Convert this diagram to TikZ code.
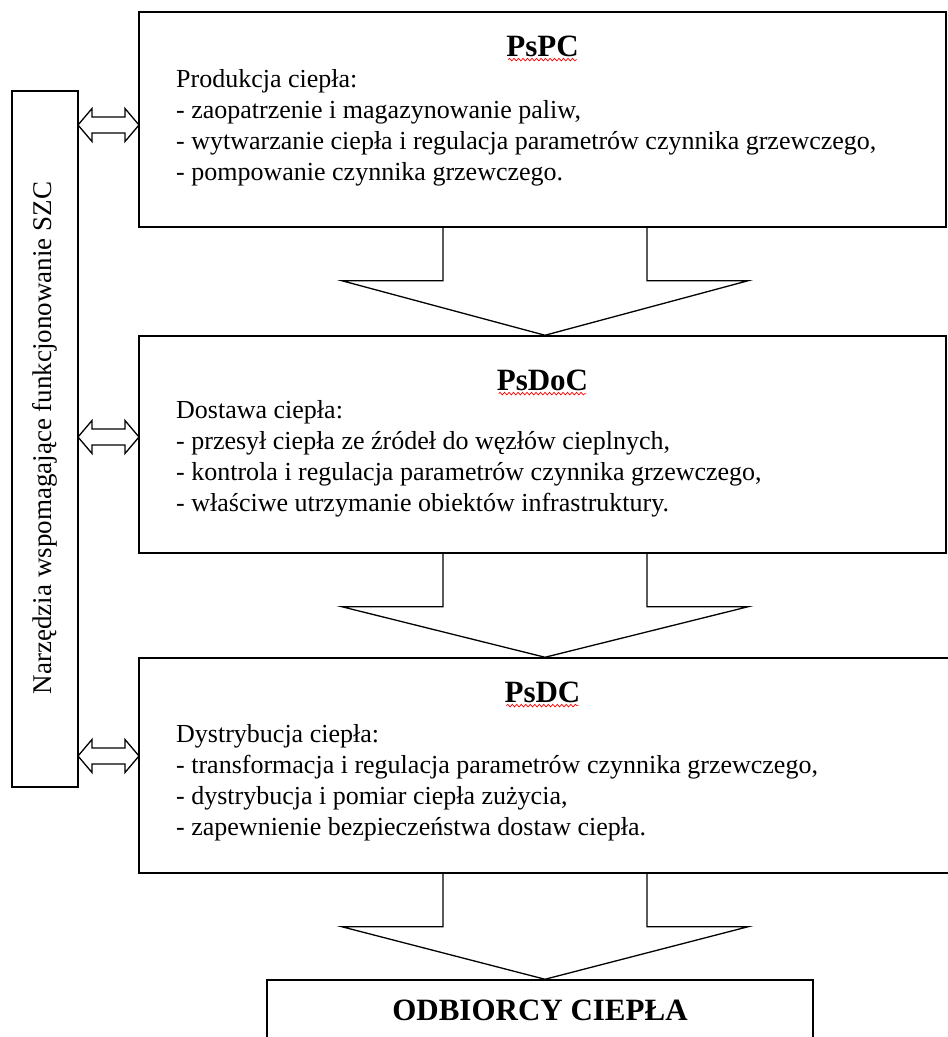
\documentclass[tikz,border=0pt]{standalone}
\usepackage{fontspec}
\setmainfont{Liberation Serif}
\usetikzlibrary{calc,decorations.pathmorphing}

\tikzset{
  blok/.style={draw, line width=1.5pt, inner sep=0pt},
  tytul/.style={font=\fontsize{31}{35}\selectfont\bfseries, inner sep=0pt},
  opis/.style={align=left, anchor=north west, inner sep=0pt, font=\fontsize{26}{31}\selectfont},
  falka/.style={red, line width=0.7pt, decorate, decoration={snake, amplitude=1.3pt, segment length=4.5pt}},
  strzal/.style={draw, line width=1.3pt, line join=miter},
}

% strzalka blokowa miedzy dwoma blokami
\newcommand\blokowa[2]{%
  \path (os |- #1.south) ++(0,53) coordinate (baza);
  \draw[strzal] ($(os |- #1.south)+(-102,0)$) -- ($(baza)+(-102,0)$) -- ($(baza)+(-203,0)$)
    -- (os |- #2.north) -- ($(baza)+(203,0)$) -- ($(baza)+(102,0)$) -- ($(os |- #1.south)+(102,0)$);
}
% pusta strzalka dwustronna
\newcommand\dwustrzalka[2]{%
  \draw[strzal] (#1) -- ++(14,-16.5) -- ++(0,8.5) -- ($(#2)+(-14,-8)$) -- ++(0,-8.5) -- (#2)
    -- ++(-14,16.5) -- ++(0,-8.5) -- ($(#1)+(14,8)$) -- ++(0,8.5) -- cycle;
}

\begin{document}
\begin{tikzpicture}[x=1pt, y=-1pt]
  \useasboundingbox (0,0) rectangle (948,1037);
  \clip (0,0) rectangle (948,1037);

  \coordinate (os) at (545,0);

  % bloki
  \node[blok, minimum width=807, minimum height=215] (pspc) at (542.5,119.5) {};
  \node[blok, minimum width=807, minimum height=217] (psdoc) at (542.5,444.5) {};
  \node[blok, minimum width=812, minimum height=215] (psdc) at (545,765.5) {};
  \node[blok, minimum width=546, minimum height=80] (odb) at (540,1020) {};
  \node[blok, minimum width=66, minimum height=696] (narz) at (45,439) {};

  % teksty
  \node[tytul] (t1) at (542.5,46) {PsPC};
  \draw[falka] ($(t1.south west)+(2,3)$) -- ($(t1.south east)+(-2,3)$);
  \node[opis] (o1) at (176,69) {Produkcja ciepła:\\
    - zaopatrzenie i magazynowanie paliw,\\
    - wytwarzanie ciepła i regulacja parametrów czynnika grzewczego,\\
    - pompowanie czynnika grzewczego.};

  \node[tytul] (t2) at (542.5,380) {PsDoC};
  \draw[falka] ($(t2.south west)+(2,3)$) -- ($(t2.south east)+(-2,3)$);
  \node[opis] (o2) at (176,400) {Dostawa ciepła:\\
    - przesył ciepła ze źródeł do węzłów cieplnych,\\
    - kontrola i regulacja parametrów czynnika grzewczego,\\
    - właściwe utrzymanie obiektów infrastruktury.};

  \node[tytul] (t3) at (542.5,692) {PsDC};
  \draw[falka] ($(t3.south west)+(2,3)$) -- ($(t3.south east)+(-2,3)$);
  \node[opis] (o3) at (176,724) {Dystrybucja ciepła:\\
    - transformacja i regulacja parametrów czynnika grzewczego,\\
    - dystrybucja i pomiar ciepła zużycia,\\
    - zapewnienie bezpieczeństwa dostaw ciepła.};

  \node[tytul] (t4) at (540,1010) {ODBIORCY CIEPŁA};
  \node[rotate=90, font=\fontsize{27}{31}\selectfont] (t5) at (45,438) {Narzędzia wspomagające funkcjonowanie SZC};

  % strzalki w dol
  \blokowa{pspc}{psdoc}
  \blokowa{psdoc}{psdc}
  \blokowa{psdc}{odb}

  % strzalki do narzedzi
  \coordinate (a1) at (78,125);  \coordinate (b1) at (139,125);
  \coordinate (a2) at (78,437);  \coordinate (b2) at (139,437);
  \coordinate (a3) at (78,756);  \coordinate (b3) at (139,756);
  \dwustrzalka{a1}{b1}
  \dwustrzalka{a2}{b2}
  \dwustrzalka{a3}{b3}
\end{tikzpicture}
\end{document}
